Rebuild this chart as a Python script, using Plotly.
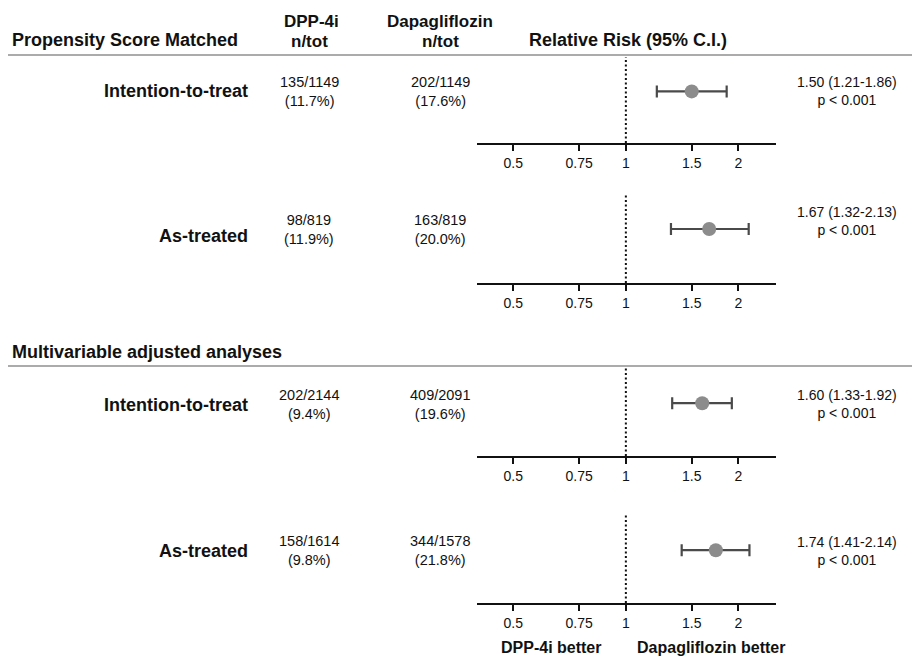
import plotly.graph_objects as go

# ---------------- data ----------------
analyses = ["Intention-to-treat", "As-treated", "Intention-to-treat", "As-treated"]
dpp_counts = ["135/1149", "98/819", "202/2144", "158/1614"]
dpp_pct = ["(11.7%)", "(11.9%)", "(9.4%)", "(9.8%)"]
dapa_counts = ["202/1149", "163/819", "409/2091", "344/1578"]
dapa_pct = ["(17.6%)", "(20.0%)", "(19.6%)", "(21.8%)"]
rr = [1.50, 1.67, 1.60, 1.74]
rr_lo = [1.21, 1.32, 1.33, 1.41]
rr_hi = [1.86, 2.13, 1.92, 2.14]
p_text = ["p < 0.001", "p < 0.001", "p < 0.001", "p < 0.001"]
tick_vals = [0.5, 0.75, 1, 1.5, 2]
tick_labels = ["0.5", "0.75", "1", "1.5", "2"]
section_titles = ["Propensity Score Matched", "Multivariable adjusted analyses"]

# ---------------- layout geometry (pixels) ----------------
W, H = 912, 658
FONT = "Arial, Liberation Sans, sans-serif"
TXT = "#111111"


def py(px):
    return 1 - px / H


def pxx(px):
    return px / W


panel_top = [57, 193, 368, 515]      # top of dotted line
panel_axis = [143, 283, 456, 603]    # axis line
label_y = [91, 236, 405, 551]
count_y = [91, 229.5, 404, 550.5]
rr_y = [90.5, 221, 404, 551]
x_dom = [pxx(477), pxx(776)]
x_range = [-0.398, 0.4014]

fig = go.Figure()
annotations = []
shapes = []

for i in range(4):
    sfx = "" if i == 0 else str(i + 1)
    xa, ya = "x" + sfx, "y" + sfx
    # dotted reference line at RR = 1
    fig.add_trace(go.Scatter(
        x=[1, 1], y=[0, 1], mode="lines", xaxis=xa, yaxis=ya,
        line=dict(color="#111111", width=2, dash="2px,2.5px"),
        hoverinfo="skip", showlegend=False, cliponaxis=False))
    # point estimate with CI
    fig.add_trace(go.Scatter(
        x=[rr[i]], y=[0.6], mode="markers", xaxis=xa, yaxis=ya,
        marker=dict(color="#8c8c8c", size=14, line=dict(width=0)),
        error_x=dict(type="data", symmetric=False,
                     array=[rr_hi[i] - rr[i]], arrayminus=[rr[i] - rr_lo[i]],
                     color="#4a4a4a", thickness=2.2, width=6),
        showlegend=False, cliponaxis=False))
    fig.update_layout(**{
        ("xaxis" + sfx): dict(
            type="log", range=x_range, domain=x_dom, anchor=ya,
            tickvals=tick_vals, ticktext=tick_labels,
            ticks="outside", ticklen=6, tickwidth=2, tickcolor="#111111",
            showline=True, linewidth=2, linecolor="#111111",
            showgrid=False, zeroline=False, fixedrange=True,
            tickfont=dict(family=FONT, size=14, color=TXT)),
        ("yaxis" + sfx): dict(
            range=[0, 1], domain=[py(panel_axis[i]), py(panel_top[i])],
            anchor=xa, visible=False, fixedrange=True),
    })

    # row texts
    annotations.append(dict(x=pxx(250), y=py(label_y[i]), xref="paper", yref="paper",
                            text="<b>" + analyses[i] + "</b>", showarrow=False,
                            xanchor="right", yanchor="middle",
                            font=dict(family=FONT, size=18, color=TXT)))
    annotations.append(dict(x=pxx(309), y=py(count_y[i]), xref="paper", yref="paper",
                            text=dpp_counts[i] + "<br>" + dpp_pct[i], showarrow=False,
                            xanchor="center", yanchor="middle", align="center",
                            font=dict(family=FONT, size=14.5, color=TXT)))
    annotations.append(dict(x=pxx(440), y=py(count_y[i]), xref="paper", yref="paper",
                            text=dapa_counts[i] + "<br>" + dapa_pct[i], showarrow=False,
                            xanchor="center", yanchor="middle", align="center",
                            font=dict(family=FONT, size=14.5, color=TXT)))
    annotations.append(dict(x=pxx(847), y=py(rr_y[i]), xref="paper", yref="paper",
                            text=f"{rr[i]:.2f} ({rr_lo[i]:.2f}-{rr_hi[i]:.2f})<br>{p_text[i]}",
                            showarrow=False, xanchor="center", yanchor="middle", align="center",
                            font=dict(family=FONT, size=14, color=TXT)))

# headers
hdr = [
    ("<b>" + section_titles[0] + "</b>", 10, 40, "left", 18),
    ("<b>" + section_titles[1] + "</b>", 10, 352, "left", 18),
    ("<b>DPP-4i</b>", 311, 21.5, "center", 17),
    ("<b>n/tot</b>", 309, 42, "center", 17),
    ("<b>Dapagliflozin</b>", 440, 21.5, "center", 17),
    ("<b>n/tot</b>", 440, 42, "center", 17),
    ("<b>Relative Risk (95% C.I.)</b>", 628, 40, "center", 18),
]
for t, x, y, anc, fs in hdr:
    annotations.append(dict(x=pxx(x), y=py(y), xref="paper", yref="paper", text=t,
                            showarrow=False, xanchor=anc, yanchor="middle",
                            font=dict(family=FONT, size=fs, color=TXT)))

for t, x in [("<b>DPP-4i better</b>", 551), ("<b>Dapagliflozin better</b>", 711)]:
    annotations.append(dict(x=pxx(x), y=py(647), xref="paper", yref="paper", text=t,
                            showarrow=False, xanchor="center", yanchor="middle",
                            font=dict(family=FONT, size=16, color=TXT)))

for yl in [55, 366]:
    shapes.append(dict(type="line", xref="paper", yref="paper",
                       x0=pxx(8), x1=1, y0=py(yl), y1=py(yl),
                       line=dict(color="#8f8f8f", width=1.5)))

fig.update_layout(
    width=W, height=H, autosize=False,
    margin=dict(l=0, r=0, t=0, b=0),
    paper_bgcolor="white", plot_bgcolor="white",
    annotations=annotations, shapes=shapes,
    showlegend=False,
)

fig.write_html(
    "out.html",
    config={"displayModeBar": False},
    post_script="document.body.style.margin='0';document.body.style.overflow='hidden';",
)
